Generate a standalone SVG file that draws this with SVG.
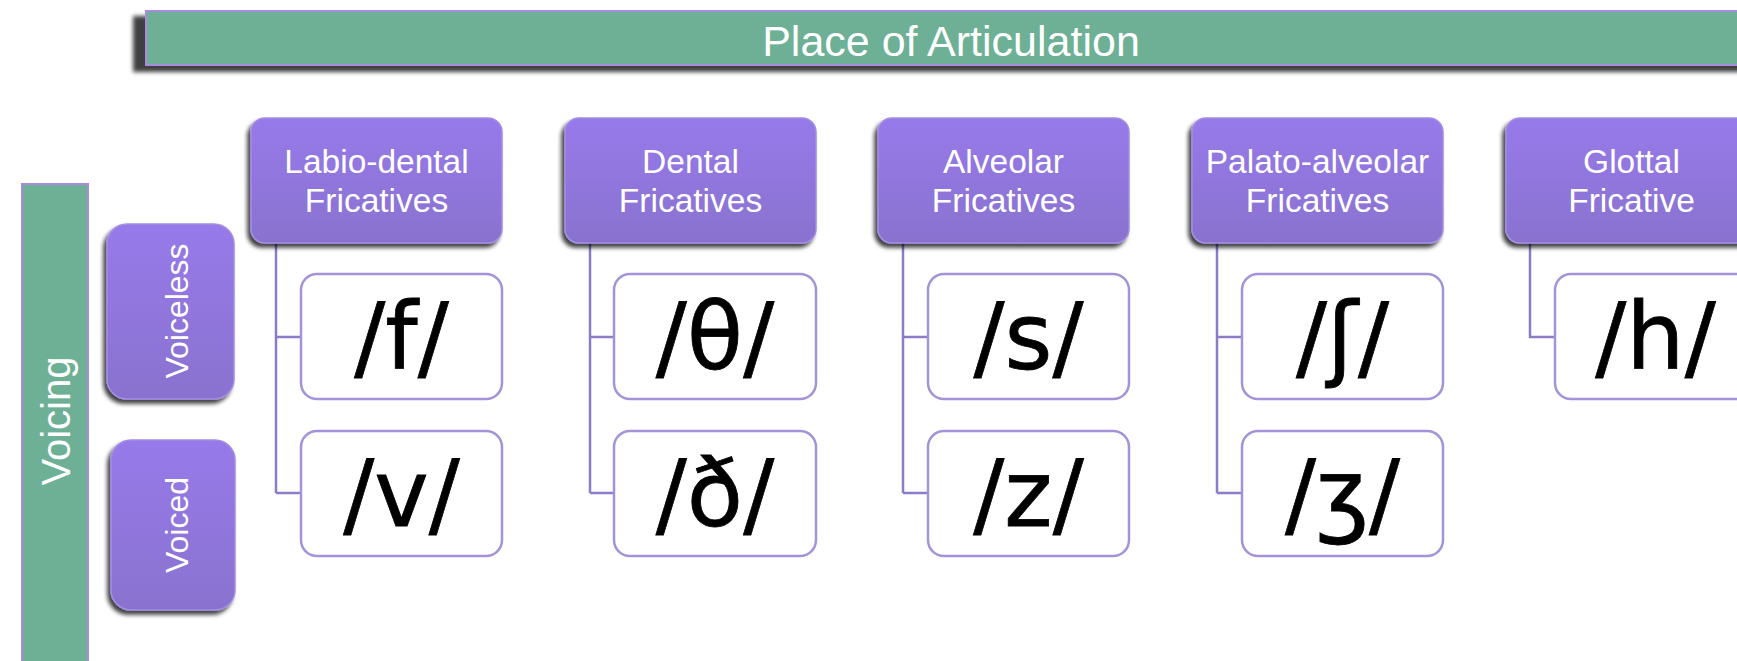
<svg xmlns="http://www.w3.org/2000/svg" width="1737" height="661" viewBox="0 0 1737 661">
<style>
.hdr{fill:url(#pg);stroke:#A28DE3;stroke-width:1.5;filter:url(#sh)}
.cat{fill:url(#pg);stroke:#A28DE3;stroke-width:1.5;filter:url(#sh)}
.leaf{fill:#FFFFFF;stroke:#A493D8;stroke-width:2.5}
.wt{font-family:"Liberation Sans",Arial,sans-serif;fill:#FFFFFF;text-anchor:middle}
.ht{font-size:33.5px}
.ipa{font-family:"DejaVu Sans","Liberation Sans",sans-serif;font-size:92px;fill:#000000;stroke:#000000;stroke-width:0.8;text-anchor:middle}
.con{fill:none;stroke:#8C7BC6;stroke-width:2.5}
</style>
<defs>
<linearGradient id="pg" x1="0" y1="0" x2="0" y2="1">
<stop offset="0" stop-color="#977AEA"/>
<stop offset="1" stop-color="#8972CF"/>
</linearGradient>
<filter id="sh" x="-20%" y="-20%" width="140%" height="140%">
<feGaussianBlur in="SourceAlpha" stdDeviation="2"/>
<feOffset dx="-3" dy="4" result="o"/>
<feComponentTransfer><feFuncA type="linear" slope="0.75"/></feComponentTransfer>
<feMerge><feMergeNode/><feMergeNode in="SourceGraphic"/></feMerge>
</filter>
<filter id="shbar" x="-5%" y="-30%" width="110%" height="170%">
<feGaussianBlur in="SourceAlpha" stdDeviation="2"/>
<feOffset dx="-12" dy="6"/>
<feComponentTransfer><feFuncA type="linear" slope="0.75"/></feComponentTransfer>
<feMerge><feMergeNode/><feMergeNode in="SourceGraphic"/></feMerge>
</filter>
</defs>
<rect width="1737" height="661" fill="#FFFFFF"/>

<g id="place">
<rect x="146" y="11" width="1620" height="54" fill="#6DB096" stroke="#A98BDD" stroke-width="2" filter="url(#shbar)"/>
<text class="wt" x="951" y="56" font-size="43">Place of Articulation</text>
</g>

<g id="voicing">
<rect x="22" y="184" width="66" height="500" fill="#6DB096" stroke="#A98BDD" stroke-width="2"/>
<text class="wt" font-size="40" transform="translate(70,421) rotate(-90)">Voicing</text>
</g>

<g id="voiceless">
<rect class="cat" x="107" y="224" width="127" height="175" rx="20"/>
<text class="wt" font-size="32" transform="translate(188,311) rotate(-90)">Voiceless</text>
</g>
<g id="voiced">
<rect class="cat" x="111" y="440" width="124" height="170" rx="20"/>
<text class="wt" font-size="32" transform="translate(188,525) rotate(-90)">Voiced</text>
</g>

<g id="connectors">
<path class="con" d="M276 243V493M276 337H301M276 493H301"/>
<path class="con" d="M590 243V493M590 337H614M590 493H614"/>
<path class="con" d="M903 243V493M903 337H928M903 493H928"/>
<path class="con" d="M1217 243V493M1217 337H1242M1217 493H1242"/>
<path class="con" d="M1530 243V337H1555"/>
</g>

<g id="h-labiodental">
<rect class="hdr" x="251" y="118" width="251" height="125" rx="14"/>
<text class="wt ht" x="376.5" y="173">Labio-dental</text>
<text class="wt ht" x="376.5" y="212">Fricatives</text>
</g>
<g id="n-f"><rect class="leaf" x="301" y="274" width="201" height="125" rx="16"/><text class="ipa" x="401.5" y="369">/f/</text></g>
<g id="n-v"><rect class="leaf" x="301" y="431" width="201" height="125" rx="16"/><text class="ipa" x="401.5" y="526">/v/</text></g>

<g id="h-dental">
<rect class="hdr" x="565" y="118" width="251" height="125" rx="14"/>
<text class="wt ht" x="690.5" y="173">Dental</text>
<text class="wt ht" x="690.5" y="212">Fricatives</text>
</g>
<g id="n-theta"><rect class="leaf" x="614" y="274" width="202" height="125" rx="16"/><text class="ipa" x="715" y="369">/θ/</text></g>
<g id="n-eth"><rect class="leaf" x="614" y="431" width="202" height="125" rx="16"/><text class="ipa" x="715" y="526">/ð/</text></g>

<g id="h-alveolar">
<rect class="hdr" x="878" y="118" width="251" height="125" rx="14"/>
<text class="wt ht" x="1003.5" y="173">Alveolar</text>
<text class="wt ht" x="1003.5" y="212">Fricatives</text>
</g>
<g id="n-s"><rect class="leaf" x="928" y="274" width="201" height="125" rx="16"/><text class="ipa" x="1028.5" y="369">/s/</text></g>
<g id="n-z"><rect class="leaf" x="928" y="431" width="201" height="125" rx="16"/><text class="ipa" x="1028.5" y="526">/z/</text></g>

<g id="h-palatoalveolar">
<rect class="hdr" x="1192" y="118" width="251" height="125" rx="14"/>
<text class="wt ht" x="1317.5" y="173">Palato-alveolar</text>
<text class="wt ht" x="1317.5" y="212">Fricatives</text>
</g>
<g id="n-esh"><rect class="leaf" x="1242" y="274" width="201" height="125" rx="16"/><text class="ipa" x="1342.5" y="369">/ʃ/</text></g>
<g id="n-ezh"><rect class="leaf" x="1242" y="431" width="201" height="125" rx="16"/><text class="ipa" x="1342.5" y="526">/ʒ/</text></g>

<g id="h-glottal">
<rect class="hdr" x="1506" y="118" width="251" height="125" rx="14"/>
<text class="wt ht" x="1631.5" y="173">Glottal</text>
<text class="wt ht" x="1631.5" y="212">Fricative</text>
</g>
<g id="n-h"><rect class="leaf" x="1555" y="274" width="201" height="125" rx="16"/><text class="ipa" x="1655.5" y="369">/h/</text></g>
</svg>
